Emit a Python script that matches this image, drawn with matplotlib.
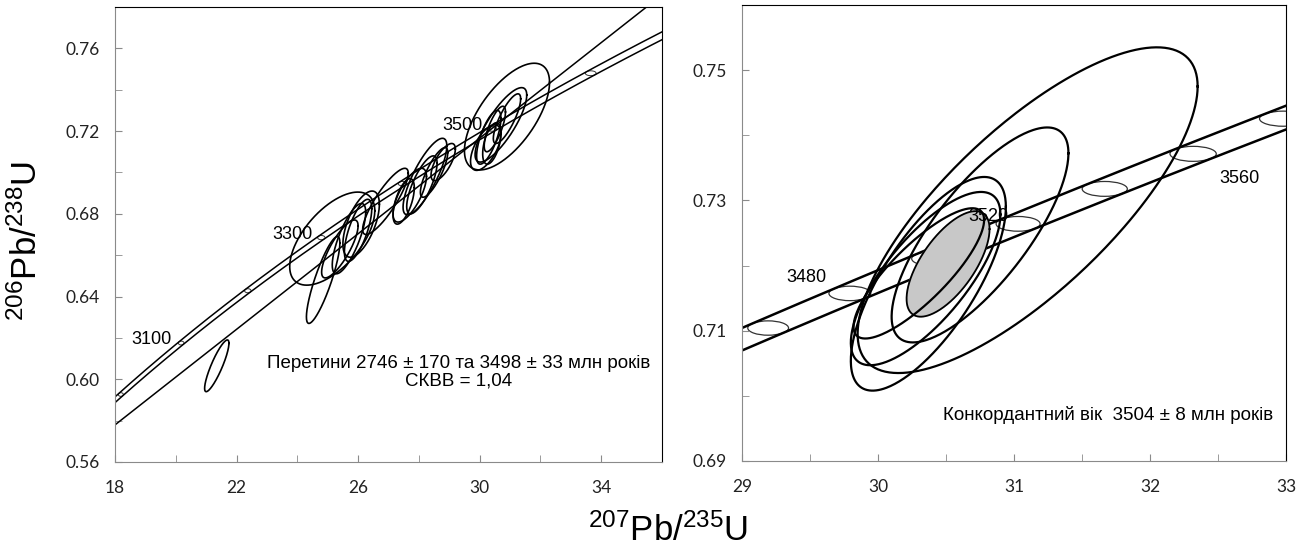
import numpy as np
import matplotlib.pyplot as plt
from matplotlib.patches import Ellipse
from matplotlib.ticker import FixedLocator

plt.rcParams['mathtext.default'] = 'regular'

# Константи розпаду (1/рік) та їх похибки для смуги конкордії
lam235 = 9.8485e-10
lam238 = 1.55125e-10
s235 = 1.435e-12
s238 = 1.86e-13

# Ліва діаграма: точки (207/235, 2s, 206/238, 2s, rho)
left_x = [25.15, 24.85, 25.70, 26.00, 25.40, 26.10, 26.90,
          28.20, 27.70, 28.10, 28.50, 28.80, 27.50,
          30.90, 30.70, 30.30, 30.50, 30.40, 30.90, 30.20, 21.35]
left_sx = [1.40, 0.55, 0.55, 0.45, 0.60, 0.60, 0.75,
           0.72, 0.55, 0.50, 0.45, 0.40, 0.35,
           1.40, 0.85, 0.40, 0.35, 0.30, 0.45, 0.50, 0.40]
left_y = [0.668, 0.648, 0.668, 0.672, 0.663, 0.675, 0.686,
          0.698, 0.689, 0.694, 0.700, 0.705, 0.686,
          0.727, 0.723, 0.717, 0.721, 0.714, 0.726, 0.712, 0.6065]
left_sy = [0.0225, 0.021, 0.017, 0.015, 0.014, 0.016, 0.016,
           0.0185, 0.013, 0.014, 0.012, 0.009, 0.011,
           0.0258, 0.018, 0.013, 0.011, 0.010, 0.012, 0.011, 0.0125]
left_rho = [0.60, 0.85, 0.75, 0.70, 0.80, 0.60, 0.85,
            0.80, 0.70, 0.75, 0.80, 0.70, 0.60,
            0.64, 0.80, 0.70, 0.75, 0.50, 0.80, 0.60, 0.87]

# Права діаграма
right_x = [31.10, 30.75, 30.37, 30.35, 30.30]
right_sx = [1.25, 0.65, 0.57, 0.55, 0.48]
right_y = [0.7285, 0.7247, 0.7172, 0.7180, 0.7188]
right_sy = [0.0250, 0.0165, 0.0164, 0.0133, 0.0100]
right_rho = [0.76, 0.76, 0.72, 0.74, 0.82]

# Конкордантний вік (сіра еліпса)
conc_x, conc_sx, conc_y, conc_sy, conc_rho = 30.515, 0.305, 0.72025, 0.0081, 0.66

# Перетини дискордії, млн років
lower_int = 2746
upper_int = 3498

left_ages = [3000, 3100, 3200, 3300, 3400, 3500, 3600, 3700]
left_labels = [3100, 3300, 3500]
right_ages = [3440, 3460, 3480, 3500, 3520, 3540, 3560, 3580, 3600]
right_labels = [3480, 3520, 3560]

left_xticks = [18, 22, 26, 30, 34]
left_yticks = [0.56, 0.60, 0.64, 0.68, 0.72, 0.76]
right_xticks = [29, 30, 31, 32, 33]
right_yticks = [0.69, 0.71, 0.73, 0.75]


def conc(t_ma):
    t = np.asarray(t_ma) * 1e6
    return np.exp(lam235 * t) - 1, np.exp(lam238 * t) - 1


def half_axes(t_ma):
    t = np.asarray(t_ma) * 1e6
    x, y = conc(t_ma)
    return (1 + x) * t * s235, (1 + y) * t * s238


def draw_band(ax, t0, t1, lw):
    t = np.linspace(t0, t1, 400)
    x, y = conc(t)
    a, b = half_axes(t)
    dx = lam235 * (1 + x)
    dy = lam238 * (1 + y)
    nx, ny = -dy, dx
    d = np.sqrt(a**2 * nx**2 + b**2 * ny**2)
    px = a**2 * nx / d
    py = b**2 * ny / d
    ax.plot(x + px, y + py, color='black', lw=lw, solid_capstyle='butt')
    ax.plot(x - px, y - py, color='black', lw=lw, solid_capstyle='butt')


def draw_markers(ax, ages, lw):
    for age in ages:
        x, y = conc(age)
        a, b = half_axes(age)
        ax.add_patch(Ellipse((x, y), 2 * a, 2 * b, fill=False, ec='#333333', lw=lw))


def err_ellipse(ax, x, sx, y, sy, rho, lw, fill=None):
    th = np.linspace(0, 2 * np.pi, 300)
    ex = x + sx * np.cos(th)
    ey = y + sy * (rho * np.cos(th) + np.sqrt(1 - rho**2) * np.sin(th))
    if fill:
        ax.fill(ex, ey, color=fill, zorder=3)
    ax.plot(ex, ey, color='black', lw=lw, zorder=4)


def style_axes(ax, xt, yt):
    ax.xaxis.set_major_locator(FixedLocator(xt))
    ax.yaxis.set_major_locator(FixedLocator(yt))
    xm = [(a + b) / 2 for a, b in zip(xt[:-1], xt[1:])]
    ym = [(a + b) / 2 for a, b in zip(yt[:-1], yt[1:])]
    ax.xaxis.set_minor_locator(FixedLocator(xm))
    ax.yaxis.set_minor_locator(FixedLocator(ym + [yt[-1] + (yt[1] - yt[0]) / 2]))
    ax.set_xticklabels([f'{v:g}' for v in xt])
    ax.set_yticklabels([f'{v:.2f}' for v in yt])
    for s in ['left', 'bottom']:
        ax.spines[s].set_color('#8a8a8a')
    for s in ['top', 'right']:
        ax.spines[s].set_color('black')
    ax.tick_params(axis='both', which='both', direction='in', length=5,
                   color='#8a8a8a', labelsize=12.5, labelcolor='#222222')
    ax.tick_params(axis='x', which='both', pad=13)
    ax.tick_params(axis='y', which='both', pad=11)
    for lab in ax.get_xticklabels() + ax.get_yticklabels():
        lab.set_family('Lato')


fig = plt.figure(figsize=(13.08, 5.54), dpi=100)
ax1 = fig.add_axes([0.0879, 0.1661, 0.4182, 0.8213])
ax2 = fig.add_axes([0.5673, 0.1679, 0.4159, 0.8231])

# ----- ліва панель -----
ax1.set_xlim(18, 36)
ax1.set_ylim(0.56, 0.78)
draw_band(ax1, 2800, 3800, 1.1)
draw_markers(ax1, left_ages, 0.7)

lx, ly = conc([lower_int, upper_int])
k = (ly[1] - ly[0]) / (lx[1] - lx[0])
xx = np.array([18, 36])
ax1.plot(xx, ly[0] + k * (xx - lx[0]), color='black', lw=1.1)

for i in range(len(left_x)):
    err_ellipse(ax1, left_x[i], left_sx[i], left_y[i], left_sy[i], left_rho[i], 1.2)

for age in left_labels:
    x, y = conc(age)
    ax1.text(x - 0.3, y + 0.0015, str(age), ha='right', va='center',
             fontsize=13, family='Liberation Sans')

ax1.text(29.3, 0.6035, 'Перетини 2746 ± 170 та 3498 ± 33 млн років\nСКВВ = 1,04',
         ha='center', va='center', fontsize=13.5, family='Liberation Sans', linespacing=1.05)
style_axes(ax1, left_xticks, left_yticks)
ax1.set_xlim(18, 36)
ax1.set_ylim(0.56, 0.78)

# ----- права панель -----
ax2.set_xlim(29, 33)
ax2.set_ylim(0.69, 0.76)
draw_band(ax2, 3420, 3620, 1.8)
draw_markers(ax2, right_ages, 0.9)

for i in range(len(right_x)):
    err_ellipse(ax2, right_x[i], right_sx[i], right_y[i], right_sy[i], right_rho[i], 1.6)
err_ellipse(ax2, conc_x, conc_sx, conc_y, conc_sy, conc_rho, 1.3, fill='#c8c8c8')

offsets = {3480: (-0.17, 0.0025, 'right'), 3520: (-0.07, 0.0011, 'right'), 3560: (0.19, -0.0038, 'left')}
for age in right_labels:
    x, y = conc(age)
    dx, dy, ha = offsets[age]
    ax2.text(x + dx, y + dy, str(age), ha=ha, va='center', fontsize=13,
             family='Liberation Sans', zorder=5)

ax2.text(31.69, 0.6971, 'Конкордантний вік  3504 ± 8 млн років', ha='center', va='center',
         fontsize=13.5, family='Liberation Sans')
style_axes(ax2, right_xticks, right_yticks)
ax2.set_xlim(29, 33)
ax2.set_ylim(0.69, 0.76)

fig.text(0.511, 0.043, '$^{207}$Pb/$^{235}$U', ha='center', va='center',
         fontsize=25, family='Liberation Sans')
fig.text(0.02, 0.565, '$^{206}$Pb/$^{238}$U', ha='center', va='center',
         rotation=90, fontsize=25, family='Liberation Sans')

fig.savefig('out.png', dpi=100)
